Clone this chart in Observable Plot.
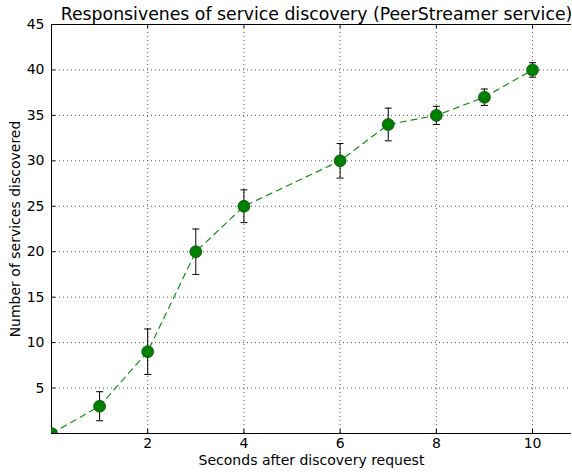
<!DOCTYPE html>
<html>
<head>
<meta charset="utf-8">
<script src="https://cdn.jsdelivr.net/npm/d3@7"></script>
<script src="https://cdn.jsdelivr.net/npm/@observablehq/plot@0.6"></script>
<style>
  html, body { margin: 0; padding: 0; background: white; overflow: hidden; }
</style>
</head>
<body>
<div id="chart"></div>
<script>
const title = "Responsivenes of service discovery (PeerStreamer service)";
const xLabel = "Seconds after discovery request";
const yLabel = "Number of services discovered";
const seconds = [0, 1, 2, 3, 4, 6, 7, 8, 9, 10];
const services = [0, 3, 9, 20, 25, 30, 34, 35, 37, 40];
const errors = [0, 1.6, 2.5, 2.5, 1.8, 1.9, 1.8, 1.0, 0.9, 0.8];
const xTicks = [2, 4, 6, 8, 10];
const xGrid = [0, 2, 4, 6, 8, 10];
const yTicks = [5, 10, 15, 20, 25, 30, 35, 40, 45];

const data = seconds.map((s, i) => ({x: s, y: services[i], lo: services[i] - errors[i], hi: services[i] + errors[i], e: errors[i]}));
const bars = data.filter(d => d.e > 0);

const W = 572, H = 472;
const mL = 51, mR = 1, mT = 24, mB = 39;
const frameW = W - mL - mR, frameH = H - mT - mB;

const cap = {draw(ctx, size) { ctx.moveTo(-3.5, 0); ctx.lineTo(3.5, 0); }};

const chart = Plot.plot({
  width: W,
  height: H,
  marginLeft: mL,
  marginRight: mR,
  marginTop: mT,
  marginBottom: mB,
  style: {fontFamily: "DejaVu Sans", fontSize: "14px", color: "black", background: "white"},
  x: {domain: [0, 10.81]},
  y: {domain: [0, 45]},
  marks: [
    Plot.ruleX(xGrid.filter(d => d > 0), {x: d => d, stroke: "#555", strokeDasharray: "1,3", strokeWidth: 1}),
    Plot.ruleY(yTicks.filter(d => d < 45), {y: d => d, stroke: "#555", strokeDasharray: "1,3", strokeWidth: 1}),
    Plot.tickY(yTicks, {y: d => d, insetRight: frameW - 4, stroke: "black"}),
    Plot.tickX(xTicks, {x: d => d, insetTop: frameH - 4, stroke: "black"}),
    Plot.tickX(xTicks, {x: d => d, insetBottom: frameH - 4, stroke: "black"}),
    Plot.ruleX([0], {stroke: "black"}),
    Plot.ruleY([0, 45], {stroke: "black"}),
    Plot.axisY(yTicks, {anchor: "left", tickSize: 0, tickPadding: 7, label: yLabel, labelAnchor: "center", labelOffset: 41, labelArrow: "none", fontSize: 14}),
    Plot.axisX(xTicks, {anchor: "bottom", tickSize: 0, tickPadding: 5, label: xLabel, labelAnchor: "center", labelOffset: 31, labelArrow: "none", fontSize: 14}),
    Plot.line(data, {x: "x", y: "y", stroke: "#1a8c1a", strokeWidth: 1.2, strokeDasharray: "6,5", clip: true}),
    Plot.ruleX(bars, {x: "x", y1: "lo", y2: "hi", stroke: "black", strokeWidth: 1}),
    Plot.dot(bars, {x: "x", y: "lo", symbol: cap, stroke: "black", strokeWidth: 1}),
    Plot.dot(bars, {x: "x", y: "hi", symbol: cap, stroke: "black", strokeWidth: 1}),
    Plot.dot(data, {x: "x", y: "y", r: 6, fill: "green", stroke: "#003300", strokeWidth: 0.6, clip: true}),
    Plot.text([title], {text: d => d, frameAnchor: "top", dx: 5, dy: -5, fontSize: 17.3, lineAnchor: "bottom"})
  ]
});
document.getElementById("chart").appendChild(chart);
</script>
</body>
</html>
